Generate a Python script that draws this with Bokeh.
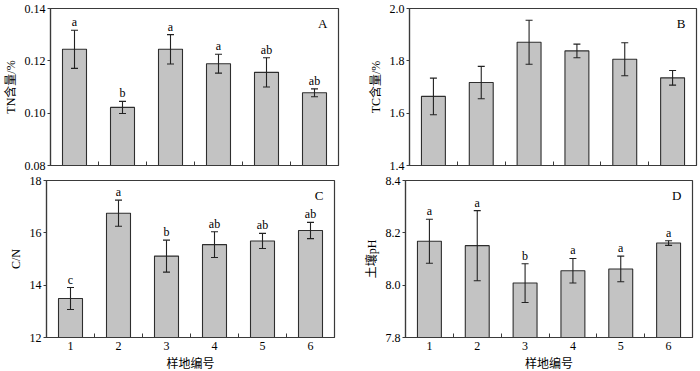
from bokeh.plotting import figure
from bokeh.layouts import column, row
from bokeh.models import (FixedTicker, Whisker, TeeHead, ColumnDataSource, Label,
                          Range1d, PrintfTickFormatter)
from bokeh.embed import file_html
from bokeh.resources import INLINE
from bokeh.core.properties import value

sites = [1, 2, 3, 4, 5, 6]
site_labels = ["1", "2", "3", "4", "5", "6"]

tn_mean = [0.1244, 0.1022, 0.1244, 0.1189, 0.1156, 0.1078]
tn_err = [0.0073, 0.0023, 0.0056, 0.0036, 0.0056, 0.0015]
tn_sig = ["a", "b", "a", "a", "ab", "ab"]

tc_mean = [1.664, 1.717, 1.871, 1.838, 1.806, 1.735]
tc_err = [0.070, 0.062, 0.084, 0.026, 0.063, 0.028]
tc_sig = ["", "", "", "", "", ""]

cn_mean = [13.49, 16.75, 15.11, 15.55, 15.69, 16.09]
cn_err = [0.42, 0.50, 0.61, 0.49, 0.29, 0.31]
cn_sig = ["c", "a", "b", "ab", "ab", "ab"]

ph_mean = [8.168, 8.151, 8.008, 8.055, 8.062, 8.161]
ph_err = [0.084, 0.134, 0.074, 0.047, 0.049, 0.009]
ph_sig = ["a", "a", "b", "a", "a", "a"]

SERIF = "Liberation Serif"
MIXED = "Liberation Serif, Noto Sans CJK SC"
FRAME = "#3a3a3a"


def panel(mean, err, sig, ylo, yhi, yticks, fmt, ylabel, letter, bottom,
          fw, fh, bl, br, bt, bb):
    p = figure(frame_width=fw, frame_height=fh, output_backend="svg",
               toolbar_location=None, x_range=Range1d(0.5, 6.5),
               y_range=Range1d(ylo, yhi),
               min_border_left=bl, min_border_right=br,
               min_border_top=bt, min_border_bottom=bb)
    src = ColumnDataSource(dict(x=sites, top=mean,
                                upper=[m + e for m, e in zip(mean, err)],
                                lower=[m - e for m, e in zip(mean, err)],
                                sig=sig))
    p.vbar(x="x", top="top", bottom=ylo, width=0.5, source=src,
           fill_color="#c3c3c3", line_color="#2e2e2e", line_width=1.1)
    head = dict(size=7, line_color="#222222", line_width=1.1)
    p.add_layout(Whisker(source=src, base="x", upper="upper", lower="lower",
                         level="overlay",
                         line_color="#222222", line_width=1.1,
                         upper_head=TeeHead(**head), lower_head=TeeHead(**head)))
    p.text(x="x", y="upper", text="sig", source=src, y_offset=-1,
           text_align="center", text_baseline="bottom",
           text_font=value(SERIF), text_font_size="12px", text_color="black")
    p.add_layout(Label(x=6.5, y=yhi, x_offset=-11, y_offset=-7, text=letter,
                       text_align="right", text_baseline="top",
                       text_font=SERIF, text_font_size="13px",
                       text_color="black"))
    p.xgrid.visible = False
    p.ygrid.visible = False
    p.outline_line_color = FRAME
    p.outline_line_width = 1.2

    xa = p.xaxis[0]
    xa.ticker = FixedTicker(ticks=sites,
                            minor_ticks=[s + 0.5 for s in sites[:-1]])
    xa.major_label_overrides = {s: l for s, l in zip(sites, site_labels)}
    xa.major_tick_in = 0
    xa.major_tick_out = 0
    xa.minor_tick_in = 4
    xa.minor_tick_out = 0
    xa.minor_tick_line_color = FRAME
    xa.axis_line_color = FRAME
    xa.axis_line_width = 1.2
    if bottom:
        xa.major_label_text_font = SERIF
        xa.major_label_text_font_size = "12px"
        xa.major_label_text_color = "black"
        xa.major_label_standoff = 4
        xa.axis_label = "样地编号"
        xa.axis_label_text_font = MIXED
        xa.axis_label_text_font_size = "12px"
        xa.axis_label_text_font_style = "normal"
        xa.axis_label_text_color = "black"
        xa.axis_label_standoff = 4
    else:
        xa.major_label_text_font_size = "1px"
        xa.major_label_text_color = None
        xa.major_label_standoff = 0

    ya = p.yaxis[0]
    ya.ticker = FixedTicker(ticks=yticks)
    ya.formatter = PrintfTickFormatter(format=fmt)
    ya.major_tick_in = 0
    ya.major_tick_out = 3
    ya.major_tick_line_color = FRAME
    ya.minor_tick_line_color = None
    ya.axis_line_color = FRAME
    ya.axis_line_width = 1.2
    ya.major_label_text_font = SERIF
    ya.major_label_text_font_size = "12px"
    ya.major_label_text_color = "black"
    ya.major_label_standoff = 2
    ya.axis_label = ylabel
    ya.axis_label_text_font = MIXED
    ya.axis_label_text_font_size = "12px"
    ya.axis_label_text_font_style = "normal"
    ya.axis_label_text_color = "black"
    ya.axis_label_standoff = 4
    return p


pA = panel(tn_mean, tn_err, tn_sig, 0.08, 0.14, [0.08, 0.10, 0.12, 0.14],
           "%.2f", "TN含量/%", "A", False, 288, 157, 46, 6, 8, 7)
pB = panel(tc_mean, tc_err, tc_sig, 1.4, 2.0, [1.4, 1.6, 1.8, 2.0],
           "%.1f", "TC含量/%", "B", False, 287, 157, 65, 8, 8, 7)
pC = panel(cn_mean, cn_err, cn_sig, 12, 18, [12, 14, 16, 18],
           "%d", "C/N", "C", True, 288, 157, 46, 6, 8, 34)
pD = panel(ph_mean, ph_err, ph_sig, 7.8, 8.4, [7.8, 8.0, 8.2, 8.4],
           "%.1f", "土壤pH", "D", True, 287, 157, 65, 8, 8, 34)

layout = column(row(pA, pB), row(pC, pD))
open("out.html", "w").write(file_html(layout, INLINE))
